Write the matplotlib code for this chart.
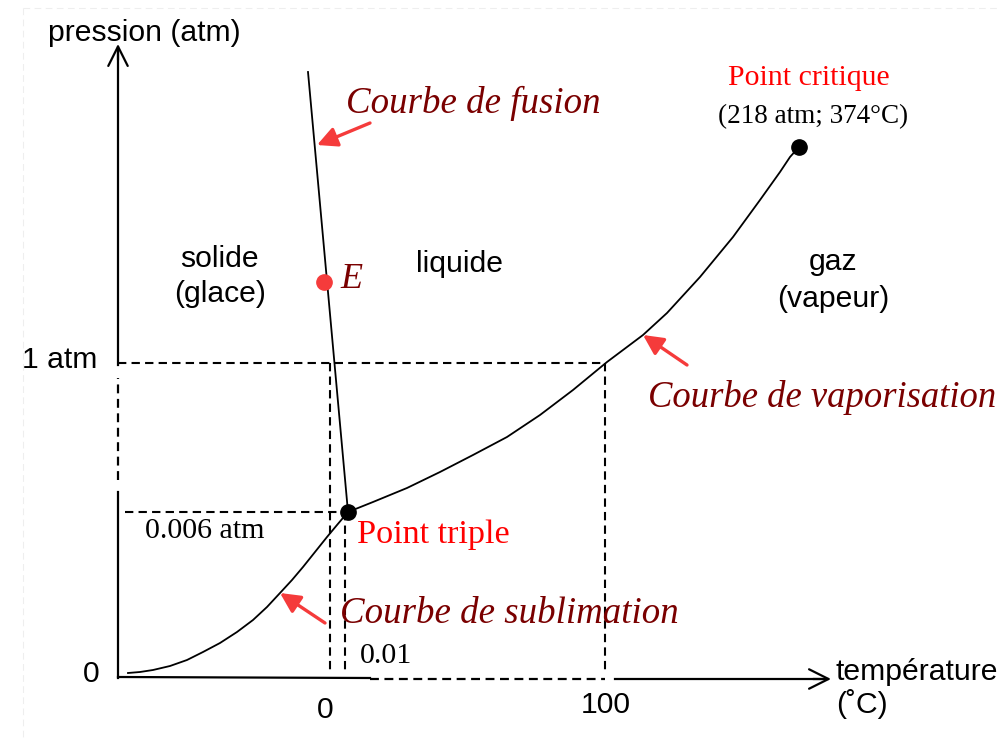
import matplotlib
matplotlib.use("Agg")
import matplotlib.pyplot as plt

# -------------------------
# Diagram data (canvas units, y pointing down)
# -------------------------
sub_x = [128, 140, 153, 170, 187, 203, 220, 237, 253, 267, 280, 292, 303, 315, 327, 337, 348]
sub_y = [673, 672, 670, 666, 660, 652, 643, 632, 620, 607, 593, 580, 567, 552, 537, 525, 512]

vap_x = [348, 373, 407, 440, 473, 507, 540, 573, 607, 643, 667, 700, 733, 760, 780, 790, 799]
vap_y = [512, 502, 488, 472, 455, 437, 415, 390, 362, 335, 313, 277, 237, 200, 172, 157, 147]

fus_x = [308, 348]
fus_y = [72, 512]

triple_xy = (348, 512)
critical_xy = (799, 147)
e_xy = (324, 282)

# axis reference positions
x_origin, y_origin = 118, 678
x_zero, x_tp, x_100 = 330, 345, 605
y_1atm, y_tp = 363, 512

SANS = ["Liberation Sans", "DejaVu Sans"]
SERIF = ["Liberation Serif", "DejaVu Serif"]
RED = "#f53b3b"
DARKRED = "#7a0000"
FS = 21.7

# -------------------------
# Canvas
# -------------------------
fig = plt.figure(figsize=(9.99, 7.39), dpi=100)
ax = fig.add_axes([0, 0, 1, 1])
ax.set_xlim(0, 999)
ax.set_ylim(739, 0)
ax.axis("off")

# faint frame
ax.plot([23, 999], [8, 8], color="#eeeeee", lw=0.8, ls=(0, (6, 4)))
ax.plot([23, 23], [8, 739], color="#eeeeee", lw=0.8, ls=(0, (6, 4)))

# -------------------------
# Axes (with arrows)
# -------------------------
ax_lw = 1.6
ax.plot([x_origin, x_origin], [y_origin, 492], color="black", lw=ax_lw)
ax.plot([x_origin, x_origin], [480, 378], color="black", lw=ax_lw, ls=(0, (4, 2.5)))
ax.plot([x_origin, x_origin], [y_1atm + 2, 50], color="black", lw=ax_lw)
ax.annotate("", xy=(x_origin, 44), xytext=(x_origin, 60),
            arrowprops=dict(arrowstyle="->,head_length=0.7,head_width=0.35",
                            lw=ax_lw, color="black", mutation_scale=20,
                            shrinkA=0, shrinkB=0))

ax.plot([x_origin, 370], [y_origin - 1, y_origin], color="black", lw=ax_lw)
ax.plot([370, x_100], [y_origin + 1, y_origin + 1], color="black", lw=ax_lw, ls=(0, (4, 2.5)))
ax.plot([615, 825], [y_origin + 1, y_origin + 1], color="black", lw=ax_lw)
ax.annotate("", xy=(831, y_origin + 1), xytext=(813, y_origin + 1),
            arrowprops=dict(arrowstyle="->,head_length=0.7,head_width=0.35",
                            lw=ax_lw, color="black", mutation_scale=20,
                            shrinkA=0, shrinkB=0))

# -------------------------
# Dashed guide lines
# -------------------------
dash = (0, (4, 2.5))
ax.plot([x_origin, x_100], [y_1atm, y_1atm], color="black", lw=1.5, ls=dash)
ax.plot([x_zero, x_zero], [y_1atm, y_origin - 4], color="black", lw=1.5, ls=dash)
ax.plot([x_tp, x_tp], [y_tp, y_origin - 4], color="black", lw=1.5, ls=dash)
ax.plot([x_100, x_100], [y_1atm, y_origin - 4], color="black", lw=1.5, ls=dash)
ax.plot([125, x_tp], [y_tp, y_tp], color="black", lw=1.5, ls=dash)

# -------------------------
# Phase boundaries
# -------------------------
ax.plot(sub_x, sub_y, color="black", lw=1.3, solid_joinstyle="round")
ax.plot(vap_x, vap_y, color="black", lw=1.3, solid_joinstyle="round")
ax.plot(fus_x, fus_y, color="black", lw=1.3)

ax.plot(*triple_xy, "o", color="black", ms=11)
ax.plot(*critical_xy, "o", color="black", ms=11)
ax.plot(*e_xy, "o", color=RED, ms=11)

# -------------------------
# Red arrows towards the curves
# -------------------------
arrows = [((370, 123), (317, 145)), ((687, 365), (643, 335)), ((325, 623), (280, 593))]
for tail, head in arrows:
    ax.annotate("", xy=head, xytext=tail,
                arrowprops=dict(arrowstyle="-|>,head_length=0.6,head_width=0.3",
                                lw=2.4, color=RED, mutation_scale=20,
                                shrinkA=0, shrinkB=0))

# -------------------------
# Text
# -------------------------
ax.text(48, 41, "pression (atm)", family=SANS, fontsize=FS, va="baseline")
ax.text(836, 680, "température", family=SANS, fontsize=FS, va="baseline")
ax.text(836, 713, "(˚C)", family=SANS, fontsize=FS, va="baseline")
ax.text(100, 682, "0", family=SANS, fontsize=FS, va="baseline", ha="right")
ax.text(97, 368, "1 atm", family=SANS, fontsize=FS, va="baseline", ha="right")
ax.text(325, 718, "0", family=SANS, fontsize=FS, va="baseline", ha="center")
ax.text(606, 713, "100", family=SANS, fontsize=FS, va="baseline", ha="center")

ax.text(219, 267, "solide", family=SANS, fontsize=FS, va="baseline", ha="center")
ax.text(220, 302, "(glace)", family=SANS, fontsize=FS, va="baseline", ha="center")
ax.text(459, 272, "liquide", family=SANS, fontsize=FS, va="baseline", ha="center")
ax.text(833, 270, "gaz", family=SANS, fontsize=FS, va="baseline", ha="center")
ax.text(833, 307, "(vapeur)", family=SANS, fontsize=FS, va="baseline", ha="center")

ax.text(145, 538, "0.006 atm", family=SERIF, fontsize=21.6, va="baseline")
ax.text(360, 663, "0.01", family=SERIF, fontsize=21.6, va="baseline")
ax.text(357, 543, "Point triple", family=SERIF, fontsize=24.6, va="baseline", color="red")
ax.text(809, 85, "Point critique", family=SERIF, fontsize=21.5, va="baseline",
        ha="center", color="red")
ax.text(813, 123, "(218 atm; 374°C)", family=SERIF, fontsize=19.5, va="baseline", ha="center")

ax.text(346, 113, "Courbe de fusion", family=SERIF, style="italic", fontsize=26.6,
        va="baseline", color=DARKRED)
ax.text(648, 407, "Courbe de vaporisation", family=SERIF, style="italic", fontsize=26.4,
        va="baseline", color=DARKRED)
ax.text(340, 623, "Courbe de sublimation", family=SERIF, style="italic", fontsize=26.6,
        va="baseline", color=DARKRED)
ax.text(340, 288, "E", family=SERIF, style="italic", fontsize=26, va="baseline", color=DARKRED)

fig.savefig("out.png", dpi=100, facecolor="white")
